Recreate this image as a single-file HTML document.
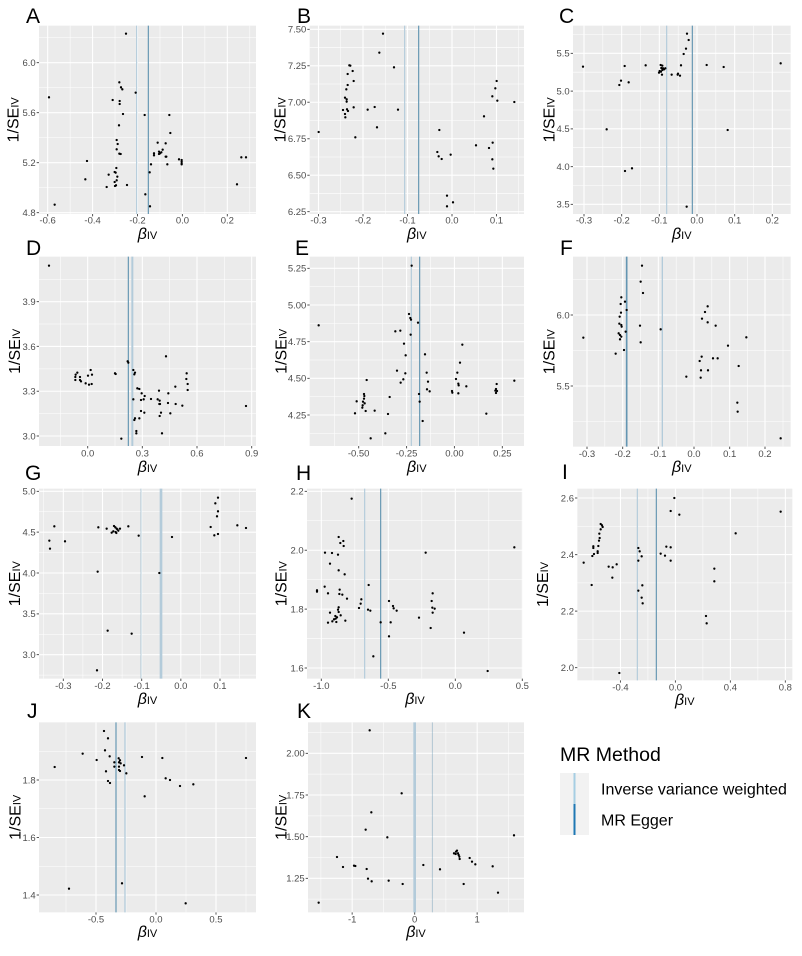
<!DOCTYPE html>
<html><head><meta charset="utf-8"><style>
html,body{margin:0;padding:0;background:#fff}
svg{display:block}
.t{font-family:"Liberation Sans",Arial,sans-serif;font-size:28.5px;fill:#4d4d4d}
.pt{fill:none;stroke:#000;stroke-width:7;stroke-linecap:round}
.mi{stroke:#fff;stroke-width:1.6;fill:none}
.ma{stroke:#fff;stroke-width:3.2;fill:none}
.tk{stroke:#555;stroke-width:3;fill:none}
.lt{stroke:#b3cbda;fill:none}
.dk{stroke:#6496b2;fill:none}
.ttl{font-family:"Liberation Sans",Arial,sans-serif;font-size:16px;fill:#000}
.sub{font-size:11px}
.let{font-family:"Liberation Sans",Arial,sans-serif;font-size:21px;fill:#000}
</style></head><body>
<svg width="802" height="956" viewBox="0 0 802 956" xmlns="http://www.w3.org/2000/svg">
<rect width="802" height="956" fill="#fff"/>

<!-- A -->
<g transform="translate(0,0) scale(0.333333)">
<rect x="117" y="77" width="651" height="565" fill="#EBEBEB"/>
<path class="mi" d="M210.4 77V642M345.1 77V642M479.9 77V642M614.6 77V642M749.4 77V642M117 113H768M117 263H768M117 413H768M117 563H768"/>
<path class="ma" d="M143 77V642M277.75 77V642M412.5 77V642M547.25 77V642M682 77V642M117 188H768M117 338H768M117 488H768M117 638H768"/>
<path class="lt" stroke-width="3.5" d="M410 77V642"/>
<path class="dk" stroke-width="3.5" d="M445 77V642"/>
<path class="pt" d="M378 101h0M358 247h0M363 262h0M367 268h0M407 278h0M147 292h0M338 300h0M359 303h0M359 312h0M369 342h0M434 345h0M508 345h0M357 376h0M511 399h0M350 420h0M353 432h0M473 428h0M497 430h0M350 448h0M488 449h0M462 460h0M462 466h0M358 461h0M362 462h0M477 455h0M477 462h0M480 460h0M484 457h0M497 470h0M499 470h0M537 478h0M545 480h0M545 485h0M545 490h0M545 493h0M724 472h0M738 472h0M261 483h0M453 493h0M502 493h0M349 504h0M449 517h0M326 524h0M344 516h0M347 518h0M352 530h0M256 538h0M350 541h0M344 546h0M348 556h0M345 558h0M320 561h0M381 555h0M711 553h0M436 583h0M164 614h0M450 619h0"/>
<path class="tk" d="M110 188H117M110 338H117M110 488H117M110 638H117M143 642V649M277.75 642V649M412.5 642V649M547.25 642V649M682 642V649"/>
<g class="t" text-anchor="end"><text x="107" y="198">6.0</text><text x="107" y="348">5.6</text><text x="107" y="498">5.2</text><text x="107" y="648">4.8</text></g>
<g class="t" text-anchor="middle"><text x="143" y="670">-0.6</text><text x="277.75" y="670">-0.4</text><text x="412.5" y="670">-0.2</text><text x="547.25" y="670">0.0</text><text x="682" y="670">0.2</text></g>
</g>

<!-- B -->
<g transform="translate(268,0) scale(0.333333)">
<rect x="125" y="77" width="643" height="565" fill="#EBEBEB"/>
<path class="mi" d="M218.25 77V642M351.75 77V642M485.25 77V642M618.75 77V642M752.25 77V642M125 142.7H768M125 252.1H768M125 361.5H768M125 470.9H768M125 580.3H768"/>
<path class="ma" d="M151.5 77V642M285 77V642M418.5 77V642M552 77V642M685.5 77V642M125 88H768M125 197.4H768M125 306.8H768M125 416.2H768M125 525.6H768M125 635H768"/>
<path class="lt" stroke-width="3.5" d="M410 77V642"/>
<path class="dk" stroke-width="3.5" d="M452 77V642"/>
<path class="pt" d="M345 101h0M334 158h0M378 202h0M244 196h0M247 197h0M239 222h0M254 213h0M257 243h0M239 255h0M235 268h0M686 243h0M682 265h0M673 289h0M688 302h0M739 306h0M231 293h0M236 298h0M236 305h0M225 330h0M237 328h0M240 333h0M257 322h0M299 329h0M320 321h0M390 329h0M231 342h0M232 352h0M648 349h0M327 382h0M152 396h0M262 412h0M514 390h0M624 436h0M663 444h0M674 428h0M508 456h0M512 469h0M521 477h0M548 464h0M673 478h0M676 506h0M537 587h0M555 607h0M537 619h0"/>
<path class="tk" d="M118 88H125M118 197.4H125M118 306.8H125M118 416.2H125M118 525.6H125M118 635H125M151.5 642V649M285 642V649M418.5 642V649M552 642V649M685.5 642V649"/>
<g class="t" text-anchor="end"><text x="115" y="98">7.50</text><text x="115" y="207.4">7.25</text><text x="115" y="316.8">7.00</text><text x="115" y="426.2">6.75</text><text x="115" y="535.6">6.50</text><text x="115" y="645">6.25</text></g>
<g class="t" text-anchor="middle"><text x="151.5" y="670">-0.3</text><text x="285" y="670">-0.2</text><text x="418.5" y="670">-0.1</text><text x="552" y="670">0.0</text><text x="685.5" y="670">0.1</text></g>
</g>

<!-- C -->
<g transform="translate(534,0) scale(0.333333)">
<rect x="117" y="77" width="653" height="565" fill="#EBEBEB"/>
<path class="mi" d="M206.5 77V642M319.5 77V642M432.5 77V642M545.5 77V642M658.5 77V642M117 103.4H770M117 216.6H770M117 329.9H770M117 443.1H770M117 556.4H770"/>
<path class="ma" d="M150 77V642M263 77V642M376 77V642M489 77V642M602 77V642M715 77V642M117 160H770M117 273.25H770M117 386.5H770M117 499.75H770M117 613H770"/>
<path class="lt" stroke-width="3.5" d="M398 77V642"/>
<path class="dk" stroke-width="3.5" d="M475 77V642"/>
<path class="pt" d="M459 101h0M464 120h0M456 146h0M449 162h0M147 200h0M272 198h0M335 196h0M380 195h0M385 197h0M382 204h0M387 205h0M441 196h0M518 195h0M569 201h0M740 190h0M377 213h0M381 215h0M375 218h0M385 210h0M390 208h0M394 205h0M384 224h0M413 224h0M432 221h0M431 224h0M438 227h0M261 242h0M256 255h0M284 247h0M218 388h0M581 390h0M273 513h0M294 505h0M458 620h0"/>
<path class="tk" d="M110 160H117M110 273.25H117M110 386.5H117M110 499.75H117M110 613H117M150 642V649M263 642V649M376 642V649M489 642V649M602 642V649M715 642V649"/>
<g class="t" text-anchor="end"><text x="107" y="170">5.5</text><text x="107" y="283.25">5.0</text><text x="107" y="396.5">4.5</text><text x="107" y="509.75">4.0</text><text x="107" y="623">3.5</text></g>
<g class="t" text-anchor="middle"><text x="150" y="670">-0.3</text><text x="263" y="670">-0.2</text><text x="376" y="670">-0.1</text><text x="489" y="670">0.0</text><text x="602" y="670">0.1</text><text x="715" y="670">0.2</text></g>
</g>

<!-- D -->
<g transform="translate(0,230) scale(0.333333)">
<rect x="117" y="80" width="651" height="568" fill="#EBEBEB"/>
<path class="mi" d="M181 80V648M345 80V648M509 80V648M673 80V648M117 148H768M117 282H768M117 416.5H768M117 551H768"/>
<path class="ma" d="M263 80V648M427 80V648M591 80V648M755 80V648M117 215H768M117 349.3H768M117 483.7H768M117 618H768"/>
<path class="lt" stroke-width="6" d="M397 80V648"/>
<path class="dk" stroke-width="3.5" d="M385 80V648"/>
<path class="pt" d="M147 107h0M498 379h0M383 394h0M385 398h0M232 428h0M227 434h0M240 441h0M264 437h0M272 420h0M276 434h0M226 450h0M240 450h0M243 454h0M257 460h0M267 464h0M275 462h0M226 441h0M345 430h0M347 432h0M400 420h0M405 428h0M403 433h0M560 430h0M559 447h0M563 462h0M563 480h0M526 470h0M412 475h0M418 477h0M477 482h0M425 490h0M505 490h0M400 508h0M453 507h0M423 510h0M434 498h0M431 508h0M473 508h0M479 512h0M480 522h0M478 522h0M504 519h0M527 522h0M547 527h0M738 528h0M423 543h0M433 548h0M483 548h0M479 558h0M511 550h0M403 570h0M405 565h0M418 565h0M409 603h0M409 610h0M486 610h0M364 626h0"/>
<path class="tk" d="M110 215H117M110 349.3H117M110 483.7H117M110 618H117M263 648V655M427 648V655M591 648V655M755 648V655"/>
<g class="t" text-anchor="end"><text x="107" y="225">3.9</text><text x="107" y="359.3">3.6</text><text x="107" y="493.7">3.3</text><text x="107" y="628">3.0</text></g>
<g class="t" text-anchor="middle"><text x="263" y="679">0.0</text><text x="427" y="679">0.3</text><text x="591" y="679">0.6</text><text x="755" y="679">0.9</text></g>
</g>

<!-- E -->
<g transform="translate(268,230) scale(0.333333)">
<rect x="125" y="80" width="643" height="568" fill="#EBEBEB"/>
<path class="mi" d="M200.2 80V648M343.8 80V648M487.5 80V648M631.2 80V648M125 170H768M125 280H768M125 390H768M125 500H768M125 610H768"/>
<path class="ma" d="M272 80V648M415.7 80V648M559.3 80V648M703 80V648M125 115H768M125 225H768M125 335H768M125 445H768M125 555H768"/>
<path class="lt" stroke-width="3.5" d="M430 80V648"/>
<path class="dk" stroke-width="3.5" d="M455 80V648"/>
<path class="pt" d="M431 107h0M152 286h0M423 252h0M427 264h0M429 269h0M450 278h0M382 304h0M397 302h0M428 314h0M408 341h0M413 376h0M583 344h0M471 373h0M387 422h0M412 430h0M406 448h0M398 458h0M476 428h0M480 455h0M477 478h0M485 484h0M296 450h0M568 428h0M564 447h0M571 461h0M572 466h0M576 398h0M595 469h0M571 490h0M552 483h0M553 488h0M453 492h0M455 515h0M365 501h0M288 492h0M289 498h0M288 506h0M285 515h0M266 514h0M290 520h0M284 526h0M283 533h0M293 543h0M261 550h0M320 542h0M360 552h0M464 573h0M352 610h0M308 625h0M686 462h0M684 477h0M682 482h0M687 483h0M684 489h0M655 551h0M739 452h0"/>
<path class="tk" d="M118 115H125M118 225H125M118 335H125M118 445H125M118 555H125M272 648V655M415.7 648V655M559.3 648V655M703 648V655"/>
<g class="t" text-anchor="end"><text x="115" y="125">5.25</text><text x="115" y="235">5.00</text><text x="115" y="345">4.75</text><text x="115" y="455">4.50</text><text x="115" y="565">4.25</text></g>
<g class="t" text-anchor="middle"><text x="272" y="679">-0.50</text><text x="415.7" y="679">-0.25</text><text x="559.3" y="679">0.00</text><text x="703" y="679">0.25</text></g>
</g>

<!-- F -->
<g transform="translate(534,230) scale(0.333333)">
<rect x="117" y="80" width="653" height="570" fill="#EBEBEB"/>
<path class="mi" d="M212.5 80V650M319.5 80V650M426.5 80V650M533.5 80V650M640 80V650M747 80V650M117 148.5H770M117 361.5H770M117 574.5H770"/>
<path class="ma" d="M159 80V650M266 80V650M373 80V650M480 80V650M587 80V650M693 80V650M117 255H770M117 468H770"/>
<path class="dk" stroke-width="5" d="M278 80V650"/>
<path class="lt" stroke-width="4" d="M385 80V650"/>
<path class="pt" d="M324 107h0M320 155h0M327 189h0M262 202h0M260 222h0M273 215h0M278 240h0M261 248h0M257 260h0M256 281h0M262 285h0M263 290h0M254 310h0M258 315h0M262 320h0M275 305h0M258 328h0M148 323h0M270 360h0M245 371h0M318 287h0M320 337h0M380 298h0M521 229h0M513 246h0M504 266h0M521 277h0M545 287h0M637 322h0M582 347h0M503 380h0M497 393h0M537 385h0M551 385h0M614 408h0M457 440h0M501 421h0M522 421h0M500 443h0M610 518h0M611 545h0M740 625h0"/>
<path class="tk" d="M110 255H117M110 468H117M159 650V657M266 650V657M373 650V657M480 650V657M587 650V657M693 650V657"/>
<g class="t" text-anchor="end"><text x="107" y="265">6.0</text><text x="107" y="478">5.5</text></g>
<g class="t" text-anchor="middle"><text x="159" y="681">-0.3</text><text x="266" y="681">-0.2</text><text x="373" y="681">-0.1</text><text x="480" y="681">0.0</text><text x="587" y="681">0.1</text><text x="693" y="681">0.2</text></g>
</g>

<!-- G -->
<g transform="translate(0,462) scale(0.333333)">
<rect x="117" y="80" width="651" height="570" fill="#EBEBEB"/>
<path class="mi" d="M131.25 80V650M248.75 80V650M366.25 80V650M483.75 80V650M601.25 80V650M718.75 80V650M117 149.25H768M117 271.75H768M117 394.25H768M117 516.75H768M117 639.25H768"/>
<path class="ma" d="M190 80V650M307.5 80V650M425 80V650M542.5 80V650M660 80V650M117 88H768M117 210.5H768M117 333H768M117 455.5H768M117 578H768"/>
<path class="dk" stroke-width="2.5" opacity="0.55" d="M423 80V650"/>
<path class="lt" stroke-width="8" d="M483 80V650"/>
<path class="pt" d="M654 107h0M646 124h0M654 148h0M651 163h0M632 195h0M643 220h0M654 216h0M712 190h0M738 198h0M163 193h0M148 236h0M195 238h0M150 260h0M295 196h0M320 200h0M342 192h0M346 196h0M350 200h0M340 208h0M347 210h0M352 202h0M355 206h0M349 213h0M360 200h0M335 212h0M385 193h0M416 221h0M516 225h0M293 329h0M478 333h0M323 506h0M395 515h0M291 625h0"/>
<path class="tk" d="M110 88H117M110 210.5H117M110 333H117M110 455.5H117M110 578H117M190 650V657M307.5 650V657M425 650V657M542.5 650V657M660 650V657"/>
<g class="t" text-anchor="end"><text x="107" y="98">5.0</text><text x="107" y="220.5">4.5</text><text x="107" y="343">4.0</text><text x="107" y="465.5">3.5</text><text x="107" y="588">3.0</text></g>
<g class="t" text-anchor="middle"><text x="190" y="681">-0.3</text><text x="307.5" y="681">-0.2</text><text x="425" y="681">-0.1</text><text x="542.5" y="681">0.0</text><text x="660" y="681">0.1</text></g>
</g>

<!-- H -->
<g transform="translate(268,462) scale(0.333333)">
<rect x="117" y="80" width="648" height="570" fill="#EBEBEB"/>
<path class="mi" d="M260.5 80V650M461.5 80V650M662.5 80V650M117 176.3H765M117 353H765M117 529.7H765"/>
<path class="ma" d="M160 80V650M361 80V650M562 80V650M763 80V650M117 88H765M117 264.7H765M117 441.3H765M117 618H765"/>
<path class="lt" stroke-width="3.5" d="M290 80V650"/>
<path class="dk" stroke-width="3.5" d="M338 80V650"/>
<path class="pt" d="M251 110h0M212 225h0M217 243h0M226 237h0M227 252h0M171 272h0M192 273h0M210 278h0M186 305h0M212 325h0M230 337h0M473 272h0M739 256h0M170 374h0M147 385h0M147 389h0M180 394h0M215 383h0M214 396h0M223 398h0M237 410h0M302 369h0M280 412h0M278 425h0M273 438h0M300 443h0M307 446h0M212 436h0M210 443h0M212 450h0M186 452h0M202 462h0M207 466h0M203 470h0M198 472h0M218 460h0M193 478h0M205 480h0M180 482h0M232 476h0M338 481h0M363 417h0M375 432h0M377 439h0M386 446h0M368 481h0M363 523h0M453 467h0M494 394h0M491 417h0M493 437h0M500 440h0M494 452h0M488 498h0M316 583h0M588 512h0M659 627h0"/>
<path class="tk" d="M110 88H117M110 264.7H117M110 441.3H117M110 618H117M160 650V657M361 650V657M562 650V657M763 650V657"/>
<g class="t" text-anchor="end"><text x="107" y="98">2.2</text><text x="107" y="274.7">2.0</text><text x="107" y="451.3">1.8</text><text x="107" y="628">1.6</text></g>
<g class="t" text-anchor="middle"><text x="160" y="681">-1.0</text><text x="361" y="681">-0.5</text><text x="562" y="681">0.0</text><text x="763" y="681">0.5</text></g>
</g>

<!-- I -->
<g transform="translate(534,462) scale(0.333333)">
<rect x="130" y="80" width="645" height="575" fill="#EBEBEB"/>
<path class="mi" d="M176.9 80V655M341.8 80V655M506.7 80V655M671.6 80V655M130 192.8H775M130 362.5H775M130 532.2H775"/>
<path class="ma" d="M259.4 80V655M424.3 80V655M589.2 80V655M754.1 80V655M130 108H775M130 277.7H775M130 447.3H775M130 617H775"/>
<path class="lt" stroke-width="3.5" d="M310 80V655"/>
<path class="dk" stroke-width="3.5" d="M367 80V655"/>
<path class="pt" d="M421 108h0M410 147h0M436 158h0M740 149h0M605 214h0M200 186h0M204 190h0M206 195h0M200 202h0M196 215h0M197 228h0M195 236h0M193 252h0M178 253h0M178 258h0M191 268h0M180 276h0M175 282h0M191 273h0M149 302h0M224 314h0M236 316h0M248 307h0M235 347h0M173 369h0M313 258h0M317 268h0M323 283h0M313 296h0M380 275h0M397 254h0M410 256h0M393 281h0M410 296h0M541 320h0M541 358h0M313 386h0M325 370h0M323 407h0M326 424h0M516 462h0M518 484h0M256 633h0"/>
<path class="tk" d="M123 108H130M123 277.7H130M123 447.3H130M123 617H130M259.4 655V662M424.3 655V662M589.2 655V662M754.1 655V662"/>
<g class="t" text-anchor="end"><text x="120" y="118">2.6</text><text x="120" y="287.7">2.4</text><text x="120" y="457.3">2.2</text><text x="120" y="627">2.0</text></g>
<g class="t" text-anchor="middle"><text x="259.4" y="686">-0.4</text><text x="424.3" y="686">0.0</text><text x="589.2" y="686">0.4</text><text x="754.1" y="686">0.8</text></g>
</g>

<!-- J -->
<g transform="translate(0,705) scale(0.333333)">
<rect x="117" y="52" width="651" height="570" fill="#EBEBEB"/>
<path class="mi" d="M198 52V622M378 52V622M558 52V622M738 52V622M117 138.75H768M117 311.25H768M117 483.75H768"/>
<path class="ma" d="M288 52V622M468 52V622M648 52V622M117 225H768M117 397.5H768M117 570H768"/>
<path class="dk" stroke-width="3.5" d="M348 52V622"/>
<path class="lt" stroke-width="4" d="M375 52V622"/>
<path class="pt" d="M312 78h0M324 100h0M315 136h0M248 146h0M329 154h0M290 165h0M343 172h0M356 160h0M360 166h0M357 172h0M362 175h0M343 185h0M357 185h0M372 181h0M164 186h0M357 195h0M360 198h0M379 205h0M318 199h0M324 228h0M330 234h0M426 156h0M487 159h0M738 159h0M497 220h0M510 225h0M540 243h0M580 238h0M434 274h0M207 551h0M366 535h0M557 595h0"/>
<path class="tk" d="M110 225H117M110 397.5H117M110 570H117M288 622V629M468 622V629M648 622V629"/>
<g class="t" text-anchor="end"><text x="107" y="235">1.8</text><text x="107" y="407.5">1.6</text><text x="107" y="580">1.4</text></g>
<g class="t" text-anchor="middle"><text x="288" y="653">-0.5</text><text x="468" y="653">0.0</text><text x="648" y="653">0.5</text></g>
</g>

<!-- K -->
<g transform="translate(268,705) scale(0.333333)">
<rect x="120" y="52" width="648" height="570" fill="#EBEBEB"/>
<path class="mi" d="M158.75 52V622M346.25 52V622M533.75 52V622M721.25 52V622M120 82.5H768M120 207.5H768M120 332.5H768M120 457.5H768M120 582.5H768"/>
<path class="ma" d="M252.5 52V622M440 52V622M627.5 52V622M120 145H768M120 270H768M120 395H768M120 520H768"/>
<path class="lt" stroke-width="8" d="M440 52V622"/>
<path class="dk" stroke-width="2.5" opacity="0.5" d="M493 52V622"/>
<path class="pt" d="M305 76h0M401 265h0M310 322h0M293 374h0M358 397h0M738 391h0M207 456h0M225 486h0M258 482h0M262 483h0M296 492h0M300 521h0M311 529h0M362 527h0M404 537h0M466 480h0M516 493h0M558 445h0M564 440h0M567 437h0M570 445h0M572 450h0M574 455h0M575 462h0M563 447h0M605 459h0M612 470h0M622 478h0M674 484h0M587 537h0M690 563h0M152 593h0"/>
<path class="tk" d="M113 145H120M113 270H120M113 395H120M113 520H120M252.5 622V629M440 622V629M627.5 622V629"/>
<g class="t" text-anchor="end"><text x="110" y="155">2.00</text><text x="110" y="280">1.75</text><text x="110" y="405">1.50</text><text x="110" y="530">1.25</text></g>
<g class="t" text-anchor="middle"><text x="252.5" y="653">-1</text><text x="440" y="653">0</text><text x="627.5" y="653">1</text></g>
</g>

<!-- Panel letters -->
<g class="let">
<text x="26" y="23">A</text><text x="297" y="23">B</text><text x="559" y="23">C</text>
<text x="26" y="255">D</text><text x="295" y="255">E</text><text x="560" y="255">F</text>
<text x="25" y="480">G</text><text x="296" y="480">H</text><text x="562" y="479">I</text>
<text x="27" y="718">J</text><text x="297" y="718">K</text>
</g>

<!-- Y axis titles -->
<g class="ttl" text-anchor="middle">
<text transform="translate(18.3,119.8) rotate(-90)">1/SE<tspan class="sub">IV</tspan></text>
<text transform="translate(285.3,119.8) rotate(-90)">1/SE<tspan class="sub">IV</tspan></text>
<text transform="translate(554.7,119.8) rotate(-90)">1/SE<tspan class="sub">IV</tspan></text>
<text transform="translate(20,351.3) rotate(-90)">1/SE<tspan class="sub">IV</tspan></text>
<text transform="translate(286.3,351.3) rotate(-90)">1/SE<tspan class="sub">IV</tspan></text>
<text transform="translate(554.7,351.7) rotate(-90)">1/SE<tspan class="sub">IV</tspan></text>
<text transform="translate(20,583.7) rotate(-90)">1/SE<tspan class="sub">IV</tspan></text>
<text transform="translate(286.3,583.7) rotate(-90)">1/SE<tspan class="sub">IV</tspan></text>
<text transform="translate(548,584.5) rotate(-90)">1/SE<tspan class="sub">IV</tspan></text>
<text transform="translate(20.7,817.3) rotate(-90)">1/SE<tspan class="sub">IV</tspan></text>
<text transform="translate(286.3,817.3) rotate(-90)">1/SE<tspan class="sub">IV</tspan></text>
</g>

<!-- X axis titles -->
<g class="ttl" text-anchor="middle">
<text x="147.5" y="239"><tspan font-style="italic">β</tspan><tspan class="sub">IV</tspan></text>
<text x="416.8" y="239"><tspan font-style="italic">β</tspan><tspan class="sub">IV</tspan></text>
<text x="681.8" y="239"><tspan font-style="italic">β</tspan><tspan class="sub">IV</tspan></text>
<text x="147.5" y="472"><tspan font-style="italic">β</tspan><tspan class="sub">IV</tspan></text>
<text x="416.8" y="472"><tspan font-style="italic">β</tspan><tspan class="sub">IV</tspan></text>
<text x="681.8" y="472"><tspan font-style="italic">β</tspan><tspan class="sub">IV</tspan></text>
<text x="147.5" y="704"><tspan font-style="italic">β</tspan><tspan class="sub">IV</tspan></text>
<text x="415" y="704"><tspan font-style="italic">β</tspan><tspan class="sub">IV</tspan></text>
<text x="684.8" y="705"><tspan font-style="italic">β</tspan><tspan class="sub">IV</tspan></text>
<text x="147.5" y="937"><tspan font-style="italic">β</tspan><tspan class="sub">IV</tspan></text>
<text x="416" y="937"><tspan font-style="italic">β</tspan><tspan class="sub">IV</tspan></text>
</g>

<!-- Legend -->
<text x="560" y="761" font-family="Liberation Sans, Arial, sans-serif" font-size="19.5" fill="#000">MR Method</text>
<rect x="560" y="773" width="29" height="31" fill="#F2F2F2"/>
<rect x="560" y="804" width="29" height="31" fill="#F2F2F2"/>
<path d="M574.5 773V804" stroke="#a6cee3" stroke-width="2"/>
<path d="M574.5 804V835" stroke="#1f78b4" stroke-width="2"/>
<text x="601" y="794.5" font-family="Liberation Sans, Arial, sans-serif" font-size="16" fill="#000">Inverse variance weighted</text>
<text x="601" y="825.5" font-family="Liberation Sans, Arial, sans-serif" font-size="16" fill="#000">MR Egger</text>
</svg>
</body></html>
